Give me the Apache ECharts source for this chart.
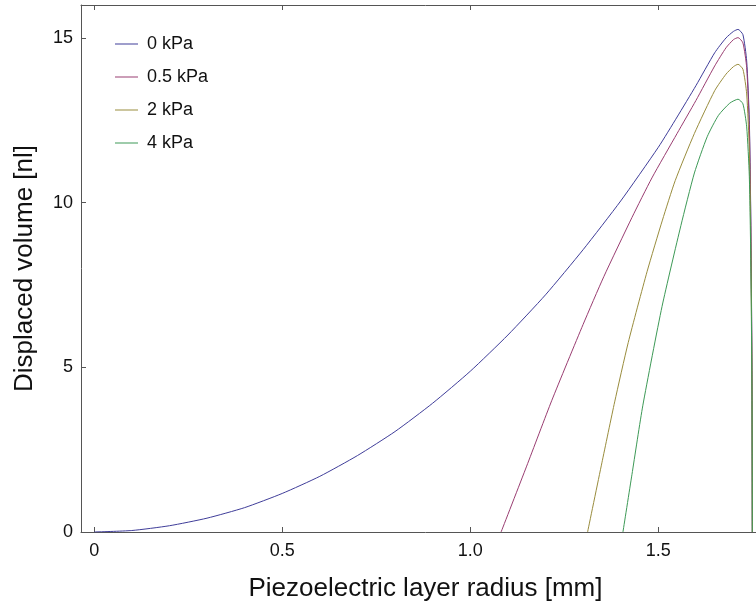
<!DOCTYPE html>
<html>
<head>
<meta charset="utf-8">
<script src="https://cdn.jsdelivr.net/npm/echarts@6/dist/echarts.min.js"></script>
<style>
  html, body { margin: 0; padding: 0; background: #fff; overflow: hidden; }
  /* the frame runs a little past the right edge of the picture */
  #chart { width: 770px; height: 608px; }
</style>
</head>
<body>
<div id="chart"></div>
<script>
// piezo layer radius [mm] / displaced volume [nl]
const r0 = [0, 0.1, 0.2, 0.3, 0.4, 0.5, 0.6, 0.7, 0.8, 0.9, 1.0, 1.1, 1.2, 1.3, 1.4, 1.5, 1.55, 1.6, 1.65, 1.68, 1.7, 1.712, 1.725, 1.735, 1.742, 1.746, 1.749, 1.75]
const v0 = [0, 0.045, 0.19, 0.42, 0.74, 1.17, 1.69, 2.32, 3.05, 3.91, 4.88, 5.98, 7.2, 8.57, 10.05, 11.68, 12.6, 13.55, 14.55, 15.0, 15.2, 15.26, 15.1, 14.3, 12.5, 9.5, 5.0, 0]

const r05 = [1.082, 1.15, 1.217, 1.3, 1.355, 1.43, 1.483, 1.55, 1.6, 1.65, 1.68, 1.7, 1.712, 1.725, 1.735, 1.742, 1.746, 1.749, 1.75]
const v05 = [0, 2.0, 4.0, 6.3, 7.75, 9.55, 10.75, 12.1, 13.1, 14.15, 14.7, 14.95, 15.01, 14.85, 14.1, 12.3, 9.3, 4.9, 0]

const r2 = [1.312, 1.35, 1.384, 1.42, 1.47, 1.511, 1.545, 1.596, 1.65, 1.68, 1.7, 1.712, 1.725, 1.735, 1.742, 1.746, 1.749, 1.75]
const v2 = [0, 2.1, 3.95, 5.75, 7.9, 9.47, 10.67, 12.1, 13.4, 13.9, 14.13, 14.2, 14.05, 13.3, 11.6, 8.8, 4.6, 0]

const r4 = [1.406, 1.43, 1.459, 1.51, 1.56, 1.596, 1.63, 1.66, 1.69, 1.712, 1.725, 1.735, 1.742, 1.746, 1.749, 1.75]
const v4 = [0, 1.75, 3.85, 6.85, 9.3, 10.9, 12.0, 12.65, 13.02, 13.14, 13.0, 12.3, 10.8, 8.2, 4.3, 0]

const seriesNames = ['0 kPa', '0.5 kPa', '2 kPa', '4 kPa']
const colors = ['#3f3d99', '#993d71', '#998c3d', '#3d9956']
const xTicks = [0, 0.5, 1.0, 1.5]
const yTicks = [0, 5, 10, 15]

const chart = echarts.init(document.getElementById('chart'))

const zip = (xs, ys) => xs.map((x, i) => [x, ys[i]])
const curves = [zip(r0, v0), zip(r05, v05), zip(r2, v2), zip(r4, v4)]

const font = 'Liberation Sans'
const axisCommon = {
  axisLine: { show: true, onZero: false, lineStyle: { color: '#555', width: 1 } },
  axisTick: { show: true, inside: true, length: 5, lineStyle: { color: '#555' } },
  splitLine: { show: false }
}

const xMin = -0.035
const xMax = 1.797

chart.setOption({
  backgroundColor: '#fff',
  animation: false,
  color: colors,
  grid: {
    left: 81,
    right: 0,
    top: 5,
    bottom: 76,
    containLabel: false
  },
  legend: {
    orient: 'vertical',
    left: 110,
    top: 30,
    icon: 'rect',
    itemWidth: 23,
    itemHeight: 1,
    itemGap: 15,
    data: seriesNames,
    textStyle: { fontFamily: font, fontSize: 18, color: '#111', padding: [0, 0, 0, 4] }
  },
  xAxis: [
    {
      type: 'value',
      min: xMin,
      max: xMax,
      name: 'Piezoelectric layer radius [mm]',
      nameLocation: 'middle',
      nameGap: 44,
      nameTextStyle: { fontFamily: font, fontSize: 26, color: '#111' },
      ...axisCommon,
      axisTick: { ...axisCommon.axisTick, customValues: xTicks },
      axisLabel: {
        customValues: xTicks,
        fontFamily: font,
        fontSize: 18,
        color: '#111',
        margin: 10,
        formatter: v => (v === 0 ? '0' : v.toFixed(1))
      }
    },
    {
      type: 'value',
      position: 'top',
      min: xMin,
      max: xMax,
      ...axisCommon,
      axisTick: { ...axisCommon.axisTick, customValues: xTicks },
      axisLabel: { show: false }
    }
  ],
  yAxis: {
    type: 'value',
    min: 0,
    max: 16,
    name: 'Displaced volume [nl]',
    nameLocation: 'middle',
    nameGap: 43,
    nameTextStyle: { fontFamily: font, fontSize: 26, color: '#111' },
    ...axisCommon,
    axisTick: { ...axisCommon.axisTick, customValues: yTicks },
    axisLabel: {
      customValues: yTicks,
      fontFamily: font,
      fontSize: 18,
      color: '#111',
      margin: 8
    }
  },
  series: curves.map((data, i) => ({
    name: seriesNames[i],
    type: 'line',
    xAxisIndex: 0,
    showSymbol: false,
    symbol: 'none',
    smooth: 0.2,
    lineStyle: { width: 1, color: colors[i] },
    itemStyle: { color: colors[i] },
    data
  }))
})
</script>
</body>
</html>
